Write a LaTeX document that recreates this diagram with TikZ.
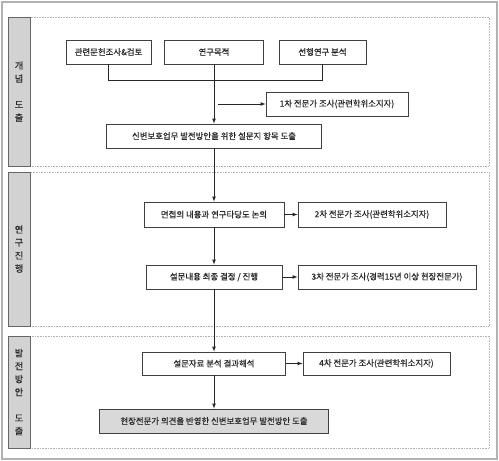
\documentclass[tikz,border=0pt]{standalone}
\usepackage{fontspec}
\setmainfont{Noto Sans CJK KR}[FakeBold=0.4]
\begin{document}
\begin{tikzpicture}[
        x=1pt, y=-1pt,
        every node/.style={font=\fontsize{8.4}{13}\selectfont, text=black!85},
        stepbox/.style={rectangle, draw=black!75, fill=white, minimum height=24pt, inner sep=0pt, line width=0.8pt},
        result/.style={stepbox, fill=gray!30},
        stage/.style={rectangle, draw=black!60, fill=gray!35, minimum width=22pt, inner sep=0pt, align=center, line width=0.9pt, font=\fontsize{9.2}{13}\selectfont},
        panel/.style={draw=gray!60, densely dotted, line width=0.6pt},
        arrow/.style={-latex, draw=black!85, line width=0.7pt},
        link/.style={draw=black!85, line width=0.7pt}
    ]
    \useasboundingbox (0,0) rectangle (499,461);
    \draw[gray!60, line width=1.2pt] (2,2) rectangle (497,459);

    % panels
    \draw[panel] (8,17) rectangle (489,166);
    \draw[panel] (8,172) rectangle (489,326);
    \draw[panel] (8,336) rectangle (489,448);
    \node[stage, minimum height=149pt] (stage1) at (19,91.5) {개\\념\\[13pt]도\\출};
    \node[stage, minimum height=154pt] (stage2) at (19,249) {연\\구\\진\\행};
    \node[stage, minimum height=112pt] (stage3) at (19,392) {발\\전\\방\\안\\[13pt]도\\출};

    % concept
    \node[stepbox, minimum width=85pt] (lit) at (108.5,52) {관련문헌조사\&검토};
    \node[stepbox, minimum width=99pt] (purpose) at (214,52) {연구목적};
    \node[stepbox, minimum width=87pt] (prior) at (322.5,52) {선행연구 분석};
    \node[stepbox, minimum width=142pt] (exp1) at (337,104) {1차 전문가 조사(관련학위소지자)};
    \node[stepbox, minimum width=215pt] (items) at (214,136) {신변보호업무 발전방안을 위한 설문지 항목 도출};

    % research
    \node[stepbox, minimum width=140pt, minimum height=25pt] (interview) at (214,214.5) {면접의 내용과 연구타당도 논의};
    \node[stepbox, minimum width=148pt, minimum height=25pt] (exp2) at (372,214.5) {2차 전문가 조사(관련학위소지자)};
    \node[stepbox, minimum width=136pt] (decide) at (214,277) {설문내용 최종 결정 / 진행};
    \node[stepbox, minimum width=178pt] (exp3) at (387,277) {3차 전문가 조사(경력15년 이상 현장전문가)};

    % development
    \node[stepbox, minimum width=143pt, minimum height=23pt] (analysis) at (214,363.5) {설문자료 분석 결과해석};
    \node[stepbox, minimum width=147pt, minimum height=23pt] (exp4) at (376.5,363.5) {4차 전문가 조사(관련학위소지자)};
    \node[result, minimum width=229pt] (final) at (214,421) {현장전문가 의견을 반영한 신변보호업무 발전방안 도출};

    % connectors
    \draw[link] (lit.south) -- ++(0,16) -| (prior.south);
    \draw[arrow] (purpose.south) -- (items.north);
    \coordinate (branch) at (218,104);
    \draw[arrow] (branch) -- (exp1.west);
    \draw[arrow] (items.south) -- (interview.north);
    \draw[arrow] (interview.east) -- (exp2.west);
    \draw[arrow] (interview.south) -- (decide.north);
    \draw[arrow] (decide.east) -- (exp3.west);
    \draw[arrow] (decide.south) -- (analysis.north);
    \draw[arrow] (analysis.east) -- (exp4.west);
    \draw[arrow] (analysis.south) -- (final.north);
\end{tikzpicture}
\end{document}
